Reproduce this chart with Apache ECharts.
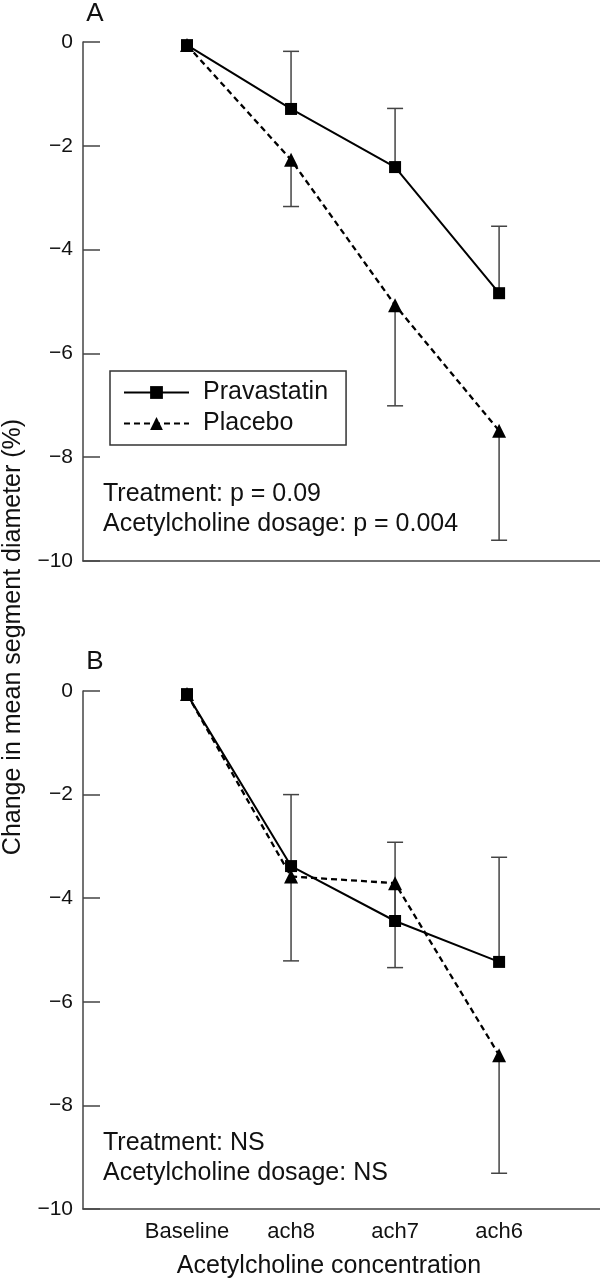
<!DOCTYPE html>
<html>
<head>
<meta charset="utf-8">
<script src="https://cdn.jsdelivr.net/npm/echarts@6/dist/echarts.min.js"></script>
<style>
html,body{margin:0;padding:0;background:#fff;}
#chart{width:600px;height:1280px;}
</style>
</head>
<body>
<div id="chart"></div>
<script>
// ---- data ----
var categories = ['Baseline', 'ach8', 'ach7', 'ach6'];
var xPos = [1, 2, 3, 4];
var yTicks = [0, -2, -4, -6, -8, -10];

// Panel A
var aPrava = [-0.06, -1.29, -2.41, -4.84];
var aPravaErr = [null, -0.18, -1.28, -3.55];
var aPlacebo = [-0.06, -2.27, -5.07, -7.49];
var aPlaceboErr = [null, -3.17, -7.01, -9.60];

// Panel B
var bPrava = [-0.06, -3.38, -4.44, -5.23];
var bPravaErr = [null, -2.00, -2.92, -3.21];
var bPlacebo = [-0.06, -3.58, -3.71, -7.03];
var bPlaceboErr = [null, -5.21, -5.34, -9.31];

var FONT = '"Liberation Sans", Arial, Helvetica, sans-serif';

function pts(vals) {
  return vals.map(function (v, i) { return [xPos[i], v]; });
}
function errPts(vals, ends) {
  var out = [];
  vals.forEach(function (v, i) {
    if (ends[i] !== null) out.push([xPos[i], v, ends[i]]);
  });
  return out;
}

function errRender(params, api) {
  var c = api.coord([api.value(0), api.value(1)]);
  var e = api.coord([api.value(0), api.value(2)]);
  var cap = 8;
  var st = { stroke: '#444', lineWidth: 1.5 };
  return {
    type: 'group',
    children: [
      { type: 'line', shape: { x1: c[0], y1: c[1], x2: e[0], y2: e[1] }, style: st },
      { type: 'line', shape: { x1: e[0] - cap, y1: e[1], x2: e[0] + cap, y2: e[1] }, style: st }
    ]
  };
}

function yAxisCfg(idx) {
  return {
    type: 'value', gridIndex: idx, min: yTicks[yTicks.length - 1], max: yTicks[0], interval: 2,
    axisLine: { show: true, lineStyle: { color: '#444', width: 1.5 } },
    axisTick: { show: true, inside: true, length: 17, lineStyle: { color: '#444', width: 1.5 } },
    splitLine: { show: false },
    axisLabel: {
      fontFamily: FONT, fontSize: 21, color: '#111', margin: 10,
      formatter: function (v) { return String(v).replace('-', '\u2212'); }
    }
  };
}
function xAxisCfg(idx, showLabel) {
  return {
    type: 'value', gridIndex: idx, min: 0, max: 4.97, interval: 1,
    axisLine: { show: true, onZero: false, lineStyle: { color: '#444', width: 1.5 } },
    axisTick: { show: false },
    splitLine: { show: false },
    axisLabel: {
      show: showLabel, fontFamily: FONT, fontSize: 22, color: '#111', margin: 12,
      showMinLabel: false, showMaxLabel: false,
      formatter: function (v) { return categories[v - 1] || ''; }
    }
  };
}

function lineSeries(name, data, idx, dashed, symbol) {
  return {
    name: name, type: 'line', xAxisIndex: idx, yAxisIndex: idx,
    data: pts(data), symbol: symbol, symbolSize: symbol === 'rect' ? 12 : 14,
    itemStyle: { color: '#000' },
    lineStyle: { color: '#000', width: dashed ? 2.3 : 2, type: dashed ? [6, 4] : 'solid' },
    z: 5, animation: false
  };
}
function errSeries(vals, ends, idx) {
  return {
    type: 'custom', xAxisIndex: idx, yAxisIndex: idx,
    renderItem: errRender, data: errPts(vals, ends), z: 3, animation: false, silent: true
  };
}

function txt(x, y, s, size, align) {
  return { type: 'text', x: x, y: y, style: { text: s, font: size + 'px ' + FONT, fill: '#111', align: align, verticalAlign: 'middle', textAlign: align, textVerticalAlign: 'middle' } };
}

var chart = echarts.init(document.getElementById('chart'), null, { renderer: 'canvas' });
chart.setOption({
  backgroundColor: '#fff',
  animation: false,
  grid: [
    { left: 83, top: 42, width: 517, height: 519 },
    { left: 83, top: 691, width: 517, height: 518 }
  ],
  xAxis: [xAxisCfg(0, false), xAxisCfg(1, true)],
  yAxis: [yAxisCfg(0), yAxisCfg(1)],
  legend: {
    orient: 'vertical', left: 110, top: 371,
    data: ['Pravastatin', 'Placebo'],
    itemWidth: 65, itemHeight: 16, itemGap: 6,
    padding: [9, 18, 9, 13],
    borderColor: '#333', borderWidth: 1.5,
    textStyle: { fontFamily: FONT, fontSize: 25, lineHeight: 24, color: '#111', padding: [0, 0, 0, 9] }
  },
  series: [
    errSeries(aPlacebo, aPlaceboErr, 0),
    errSeries(aPrava, aPravaErr, 0),
    lineSeries('Placebo', aPlacebo, 0, true, 'triangle'),
    lineSeries('Pravastatin', aPrava, 0, false, 'rect'),
    errSeries(bPlacebo, bPlaceboErr, 1),
    errSeries(bPrava, bPravaErr, 1),
    lineSeries('Placebo', bPlacebo, 1, true, 'triangle'),
    lineSeries('Pravastatin', bPrava, 1, false, 'rect')
  ],
  graphic: [
    txt(95, 14, 'A', 26, 'center'),
    txt(95, 662, 'B', 26, 'center'),
    txt(103, 494, 'Treatment: p = 0.09', 25, 'left'),
    txt(103, 524, 'Acetylcholine dosage: p = 0.004', 25, 'left'),
    txt(103, 1143, 'Treatment: NS', 25, 'left'),
    txt(103, 1173, 'Acetylcholine dosage: NS', 25, 'left'),
    txt(329, 1266, 'Acetylcholine concentration', 25, 'center'),
    { type: 'text', x: 13, y: 637, rotation: Math.PI / 2, style: { text: 'Change in mean segment diameter (%)', font: '25px ' + FONT, fill: '#111', align: 'center', verticalAlign: 'middle', textAlign: 'center', textVerticalAlign: 'middle' } }
  ]
});
</script>
</body>
</html>
